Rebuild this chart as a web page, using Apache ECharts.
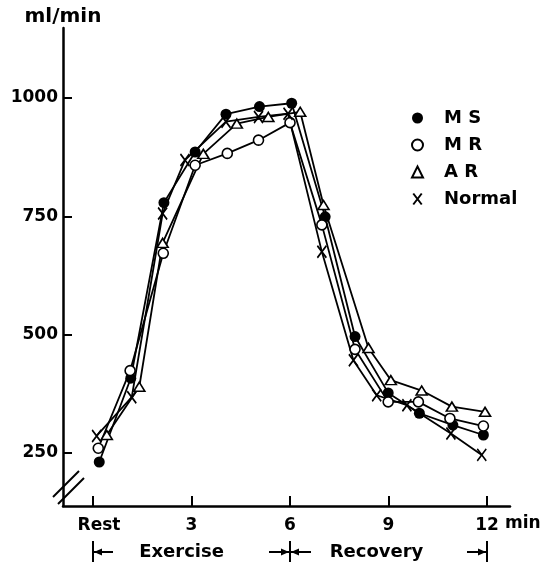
<!DOCTYPE html>
<html><head><meta charset="utf-8">
<script src="https://cdn.jsdelivr.net/npm/echarts@6/dist/echarts.min.js"></script>
<style>html,body{margin:0;padding:0;background:#fff}#c{width:557px;height:562px}</style>
</head><body><div id="c"></div>
<script>
// tick labels
const xTicks = [0, 3, 6, 9, 12];
const xTickLabels = ['Rest', '3', '6', '9', '12'];
const yTicks = [250, 500, 750, 1000];
const seriesNames = ['M S', 'M R', 'A R', 'Normal'];
// series values (minutes, ml/min)
const msX = [0.19, 1.15, 2.16, 3.11, 4.05, 5.07, 6.05, 7.07, 7.98, 8.99, 9.94, 10.96, 11.89];
const msY = [231, 408, 779, 886, 966, 982, 989, 749, 496, 377, 334, 309, 288];
const mrX = [0.16, 1.13, 2.14, 3.11, 4.09, 5.04, 6.0, 6.97, 7.98, 8.99, 9.91, 10.87, 11.89];
const mrY = [260, 424, 672, 858, 883, 911, 948, 732, 469, 358, 358, 323, 307];
const arX = [0.42, 1.41, 2.12, 3.36, 4.38, 5.34, 6.31, 7.02, 8.39, 9.07, 10.01, 10.93, 11.94];
const arY = [288, 390, 694, 882, 946, 960, 971, 774, 472, 404, 382, 348, 337];
const nX = [0.11, 1.18, 2.12, 2.80, 4.05, 5.04, 5.94, 6.97, 7.93, 8.64, 9.56, 10.90, 11.84];
const nY = [286, 368, 756, 869, 950, 960, 967, 675, 446, 372, 351, 291, 246];

const FONT = 'DejaVu Sans';
const xPath = 'path://M0,0L10,13M10,0L0,13';
const zip = (a, b) => a.map((v, i) => [v, b[i]]);

const chart = echarts.init(document.getElementById('c'), null, {renderer: 'canvas'});
const base = {type: 'line', lineStyle: {color: '#000', width: 1.8}, emphasis: {disabled: true}, animation: false, z: 3};
const lblStyle = {fontFamily: FONT, fontWeight: 'bold', fontSize: 17, color: '#000'};
chart.setOption({
  backgroundColor: '#fff',
  animation: false,
  grid: {left: 63, right: 47, top: 28, bottom: 56},
  legend: {
    orient: 'vertical', left: 406, top: 103, itemWidth: 11, itemHeight: 11, itemGap: 7,
    textStyle: {fontFamily: FONT, fontWeight: 'bold', fontSize: 18, color: '#000', lineHeight: 20, padding: [0, 0, 0, 16]},
    data: [
      {name: seriesNames[0], icon: 'circle'},
      {name: seriesNames[1], icon: 'circle'},
      {name: seriesNames[2], icon: 'triangle'},
      {name: seriesNames[3], icon: xPath}
    ],
    selectedMode: false
  },
  xAxis: {
    type: 'value', min: -0.914, max: 12.7,
    axisLine: {show: true, onZero: false, lineStyle: {color: '#000', width: 2.5}},
    axisTick: {show: true, inside: true, length: 10, lineStyle: {color: '#000', width: 2}, customValues: xTicks},
    axisLabel: Object.assign({show: true, customValues: xTicks, margin: 11,
      rich: {r: Object.assign({padding: [0, 0, 0, 12]}, lblStyle)},
      formatter: v => { const i = xTicks.indexOf(v); return i === 0 ? '{r|' + xTickLabels[0] + '}' : (xTickLabels[i] ?? ''); }}, lblStyle),
    splitLine: {show: false}
  },
  yAxis: {
    type: 'value', min: 138, max: 1148,
    name: 'ml/min', nameLocation: 'end', nameGap: 1,
    nameTextStyle: {fontFamily: FONT, fontWeight: 'bold', fontSize: 20, color: '#000', align: 'center'},
    axisLine: {show: true, onZero: false, lineStyle: {color: '#000', width: 2.5}},
    axisTick: {show: true, inside: true, length: 9, lineStyle: {color: '#000', width: 2}, customValues: yTicks},
    axisLabel: Object.assign({show: true, customValues: yTicks, margin: 5, formatter: v => String(v)}, lblStyle),
    splitLine: {show: false}
  },
  series: [
    Object.assign({}, base, {name: seriesNames[0], data: zip(msX, msY), symbol: 'circle', symbolSize: 11,
      itemStyle: {color: '#000', borderColor: '#000', borderWidth: 0}}),
    Object.assign({}, base, {name: seriesNames[1], data: zip(mrX, mrY), symbol: 'circle', symbolSize: 10,
      itemStyle: {color: '#fff', borderColor: '#000', borderWidth: 1.6}}),
    Object.assign({}, base, {name: seriesNames[2], data: zip(arX, arY), symbol: 'triangle', symbolSize: [11, 9],
      itemStyle: {color: '#fff', borderColor: '#000', borderWidth: 1.6}}),
    Object.assign({}, base, {name: seriesNames[3], data: zip(nX, nY), symbol: xPath, symbolSize: [9, 12],
      itemStyle: {color: '#000', borderColor: '#000', borderWidth: 1.8}})
  ]
});

// annotations: period arrows, "min" unit, axis break
const px = v => chart.convertToPixel({xAxisIndex: 0}, v);
const ay = 552;
const st = {stroke: '#000', lineWidth: 2};
const g = [];
function bar(x) { g.push({type: 'line', shape: {x1: x, y1: 541, x2: x, y2: 562}, style: st}); }
function arrow(xFrom, xTo) {
  g.push({type: 'line', shape: {x1: xFrom, y1: ay, x2: xTo, y2: ay}, style: st});
  const d = xTo > xFrom ? -1 : 1;
  g.push({type: 'polygon', shape: {points: [[xTo, ay], [xTo + d * 8, ay - 3.5], [xTo + d * 8, ay + 3.5]]}, style: {fill: '#000'}});
}
const x0 = px(0), x6 = px(6), x12 = px(12);
bar(x0); arrow(x0 + 20, x0 + 1);
bar(x6); arrow(x6 - 21, x6 - 1); arrow(x6 + 21, x6 + 1);
bar(x12); arrow(x12 - 20, x12 - 1);
const tStyle = {fill: '#000', font: 'bold 18px "DejaVu Sans"', textAlign: 'center', textVerticalAlign: 'middle'};
g.push({type: 'text', x: (x0 + x6) / 2 - 10, y: ay, style: Object.assign({text: 'Exercise'}, tStyle)});
g.push({type: 'text', x: (x6 + x12) / 2 - 12, y: ay, style: Object.assign({text: 'Recovery'}, tStyle)});
g.push({type: 'text', x: x12 + 18, y: 524, style: {text: 'min', fill: '#000', font: 'bold 17px "DejaVu Sans"', textAlign: 'left', textVerticalAlign: 'middle'}});
g.push({type: 'line', shape: {x1: 53, y1: 497, x2: 79, y2: 471}, style: st});
g.push({type: 'line', shape: {x1: 58, y1: 504, x2: 84, y2: 478}, style: st});
chart.setOption({graphic: g});
</script>
</body></html>
